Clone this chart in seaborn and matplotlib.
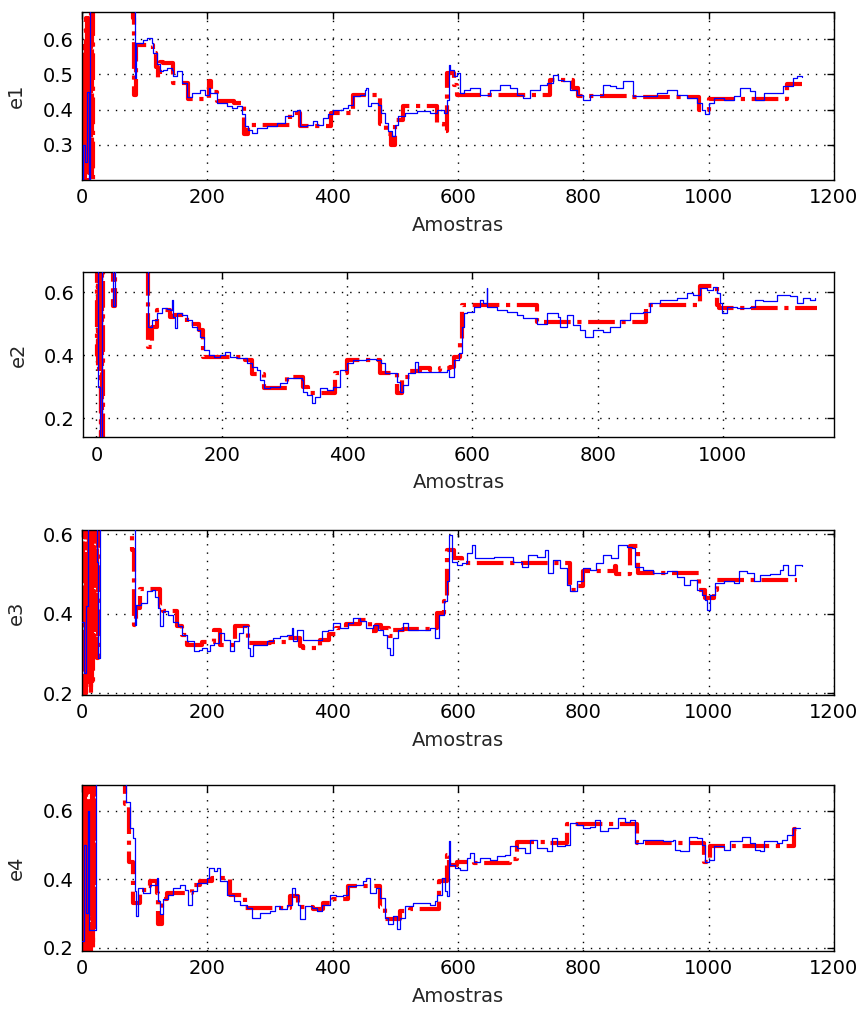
import numpy as np
import pandas as pd
import seaborn as sns
import matplotlib.pyplot as plt

# ---- e1 ----
e1_blue_x = [0, 2, 5, 8, 11, 13, 16, 40, 80, 83, 85, 87, 98, 103, 111, 114, 119, 124, 130, 135, 143, 146, 151,
             159, 167, 175, 188, 196, 202, 204, 215, 231, 239, 247, 255, 260, 265, 271, 279, 295, 311, 324, 337, 343,
             348, 359, 369, 375, 385, 393, 401, 417, 425, 433, 444, 452, 454, 457, 462, 473, 478, 484, 489, 494, 500,
             505, 516, 534, 555, 566, 577, 582, 585, 587, 593, 598, 603, 609, 619, 635, 651, 667, 683, 694, 704, 715,
             731, 742, 752, 760, 768, 779, 790, 800, 811, 827, 832, 843, 853, 864, 875, 880, 896, 917, 933, 949, 965,
             981, 989, 994, 1000, 1008, 1024, 1040, 1050, 1066, 1074, 1088, 1109, 1119, 1135, 1141, 1149]
e1_blue_y = [0.1, 0.3, 0.25, 0.45, 0.2, 0.9, 0.75, 0.8, 0.75, 0.68, 0.49, 0.59, 0.598, 0.603, 0.59, 0.56,
             0.53, 0.51, 0.512, 0.518, 0.512, 0.494, 0.51, 0.475, 0.437, 0.447, 0.455, 0.442, 0.461, 0.447, 0.419, 0.41,
             0.405, 0.41, 0.386, 0.353, 0.343, 0.334, 0.348, 0.353, 0.362, 0.381, 0.395, 0.40, 0.352, 0.357, 0.367,
             0.357, 0.376, 0.386, 0.40, 0.405, 0.414, 0.438, 0.442, 0.456, 0.461, 0.409, 0.419, 0.414, 0.39, 0.362,
             0.338, 0.324, 0.357, 0.381, 0.39, 0.395, 0.39, 0.40, 0.39, 0.428, 0.527, 0.513, 0.494, 0.504, 0.447,
             0.456, 0.461, 0.442, 0.456, 0.47, 0.461, 0.442, 0.433, 0.456, 0.47, 0.475, 0.499, 0.485, 0.48, 0.456,
             0.442, 0.428, 0.442, 0.442, 0.47, 0.466, 0.461, 0.48, 0.48, 0.438, 0.438, 0.447, 0.456, 0.442, 0.433,
             0.419, 0.40, 0.386, 0.419, 0.433, 0.428, 0.438, 0.461, 0.452, 0.428, 0.447, 0.447, 0.466, 0.489, 0.496,
             0.492]
e1_red_x = [0, 1, 2, 3, 4, 5, 6, 7, 8, 9, 10, 11, 12, 13, 14, 15, 16, 17, 82, 83, 87, 114, 118, 121, 124, 130, 146,
            170, 202, 206, 215, 242, 258, 265, 290, 332, 348, 398, 433, 476, 485, 493, 500, 513, 555, 566, 577, 582,
            593, 598, 747, 784, 792, 875, 984, 1000, 1125, 1149]
e1_red_y = [0.1, 0.58, 0.22, 0.5, 0.15, 0.45, 0.25, 0.66, 0.15, 0.4, 0.2, 0.6, 0.22, 0.68, 0.3, 0.62, 0.2, 0.9, 0.66,
            0.44, 0.584, 0.56, 0.52, 0.49, 0.535, 0.532, 0.475, 0.43, 0.48, 0.45, 0.423, 0.418, 0.33, 0.355, 0.357,
            0.39, 0.352, 0.39, 0.442, 0.36, 0.33, 0.30, 0.37, 0.41, 0.41, 0.36, 0.34, 0.504, 0.47, 0.442, 0.485, 0.46,
            0.438, 0.436, 0.40, 0.43, 0.472, 0.472]

# ---- e2 ----
e2_blue_x = [0, 3, 6, 9, 25, 27, 29, 60, 82, 83, 88, 96, 104, 112, 118, 120, 122, 125, 128, 136,
             144, 152, 160, 165, 171, 179, 187, 197, 205, 213, 224, 240, 248, 256, 261, 267, 277, 293, 304, 320, 328,
             330, 336, 344, 349, 357, 368, 378, 389, 400, 410, 431, 447, 455, 461, 471, 479, 485, 490, 498, 509, 514,
             533, 548, 559, 562, 570, 578, 583, 586, 592, 602, 612, 617, 623, 624, 639, 655, 671, 681, 697, 703, 719,
             737, 740, 751, 761, 772, 780, 793, 809, 820, 836, 852, 873, 884, 900, 926, 942, 953, 963, 974, 985, 990,
             995, 999, 1006, 1022, 1043, 1051, 1064, 1086, 1107, 1118, 1128, 1139, 1147]
e2_blue_y = [0.7, 0.3, 0.05, 0.9, 0.8, 0.555, 0.8, 0.85, 0.7, 0.49, 0.512, 0.533, 0.55,
             0.547, 0.544, 0.576, 0.52, 0.486, 0.533, 0.528, 0.512, 0.49, 0.48, 0.459, 0.417, 0.401, 0.396, 0.401,
             0.411, 0.396, 0.39, 0.375, 0.364, 0.353, 0.322, 0.295, 0.30, 0.311, 0.327, 0.327, 0.322, 0.285, 0.274,
             0.248, 0.269, 0.295, 0.29, 0.30, 0.353, 0.375, 0.385, 0.387, 0.385, 0.375, 0.343, 0.343, 0.316, 0.285,
             0.306, 0.343, 0.38, 0.348, 0.348, 0.348, 0.353, 0.332, 0.385, 0.406, 0.49, 0.533, 0.538, 0.554, 0.576,
             0.565, 0.613, 0.554, 0.544, 0.538, 0.528, 0.517, 0.517, 0.50, 0.533, 0.523, 0.49, 0.528, 0.496, 0.48,
             0.459, 0.48, 0.475, 0.49, 0.512, 0.533, 0.538, 0.565, 0.576, 0.581, 0.597, 0.592, 0.613, 0.608, 0.618,
             0.597, 0.565, 0.533, 0.554, 0.549, 0.554, 0.576, 0.571, 0.592, 0.587, 0.565, 0.581, 0.576, 0.581]
e2_red_x = [0, 1, 2, 3, 4, 5, 6, 7, 8, 9, 10, 11, 27, 29, 83, 88, 96, 118, 123, 144, 163, 170, 211, 237, 248, 267,
            304, 330, 338, 381, 400, 453, 479, 487, 500, 516, 532, 548, 564, 570, 580, 584, 703, 878, 963, 990, 994,
            1150]
e2_red_y = [0.85, 0.4, 0.9, 0.35, 0.8, 0.45, 0.9, 0.05, 0.7, 0.1, 0.6, 0.9, 0.555, 0.9, 0.427, 0.49, 0.544, 0.52,
            0.528, 0.50, 0.48, 0.396, 0.396, 0.385, 0.34, 0.295, 0.332, 0.30, 0.28, 0.343, 0.385, 0.343, 0.279,
            0.332, 0.35, 0.359, 0.353, 0.36, 0.364, 0.396, 0.45, 0.56, 0.507, 0.56, 0.62, 0.56, 0.549, 0.549]

# ---- e3 ----
e3_blue_x = [0, 3, 6, 10, 24, 26, 28, 60, 82, 85, 87, 95, 103, 111, 117, 122, 124, 130,
             138, 146, 154, 159, 167, 178, 186, 191, 199, 204, 210, 218, 226, 236, 242, 250, 257, 265, 268, 273, 284,
             295, 305, 316, 327, 335, 337, 343, 353, 369, 383, 393, 401, 412, 425, 433, 444, 454, 465, 473, 481, 486,
             492, 497, 505, 513, 521, 534, 555, 563, 569, 577, 582, 585, 590, 598, 606, 614, 622, 627, 641, 657, 672,
             688, 702, 712, 726, 739, 744, 752, 763, 774, 779, 790, 800, 811, 821, 832, 845, 856, 869, 877, 883, 896,
             912, 933, 949, 960, 970, 981, 989, 994, 997, 1002, 1010, 1024, 1040, 1048, 1061, 1072, 1082, 1098, 1114,
             1119, 1127, 1138, 1149]
e3_blue_y = [0.38, 0.25, 0.42, 0.9, 0.53, 0.289, 0.7, 0.8, 0.65, 0.372, 0.422,
             0.427, 0.456, 0.46, 0.443, 0.414, 0.368, 0.406, 0.397, 0.38, 0.368, 0.347, 0.331, 0.306, 0.31, 0.314,
             0.306, 0.322, 0.326, 0.352, 0.335, 0.306, 0.331, 0.352, 0.368, 0.314, 0.293, 0.322, 0.322, 0.331, 0.339,
             0.343, 0.347, 0.364, 0.331, 0.36, 0.335, 0.334, 0.356, 0.36, 0.377, 0.364, 0.377, 0.389, 0.381, 0.364,
             0.372, 0.36, 0.347, 0.314, 0.297, 0.339, 0.36, 0.377, 0.36, 0.36, 0.364, 0.339, 0.397, 0.431, 0.481,
             0.597, 0.531, 0.522, 0.527, 0.552, 0.572, 0.539, 0.539, 0.543, 0.543, 0.531, 0.518, 0.547, 0.543, 0.56,
             0.502, 0.535, 0.514, 0.472, 0.456, 0.481, 0.514, 0.51, 0.527, 0.547, 0.539, 0.572, 0.568, 0.564, 0.518,
             0.51, 0.502, 0.506, 0.493, 0.472, 0.485, 0.46, 0.447, 0.435, 0.41, 0.447, 0.477, 0.481, 0.477, 0.506,
             0.502, 0.481, 0.497, 0.50, 0.51, 0.522, 0.497, 0.522, 0.52]
e3_red_x = [0, 2, 3, 4, 5, 6, 7, 8, 9, 10, 11, 12, 13, 14, 15, 16, 18, 20, 22, 24, 26, 80, 83, 87, 93, 124, 130,
            151, 159, 167, 191, 210, 220, 245, 265, 300, 329, 348, 353, 380, 395, 406, 422, 444, 460, 470, 478, 490,
            497, 513, 555, 566, 578, 582, 593, 606, 779, 790, 800, 850, 853, 875, 888, 984, 994, 1008, 1013, 1141]
e3_red_y = [0.8, 0.2, 0.9, 0.25, 0.55, 0.2, 0.9, 0.3, 0.85, 0.22, 0.7, 0.25, 0.9, 0.2, 0.6, 0.22, 0.8, 0.3, 0.9,
            0.29, 0.8, 0.56, 0.372, 0.414, 0.462, 0.42, 0.406, 0.37, 0.347, 0.322, 0.33, 0.36, 0.322, 0.368, 0.327,
            0.33, 0.339, 0.32, 0.314, 0.335, 0.35, 0.364, 0.375, 0.385, 0.356, 0.372, 0.364, 0.345, 0.36, 0.362,
            0.364, 0.401, 0.431, 0.56, 0.54, 0.528, 0.46, 0.47, 0.506, 0.52, 0.50, 0.57, 0.502, 0.46, 0.44, 0.46,
            0.485, 0.485]

# ---- e4 ----
e4_blue_x = [0, 3, 6, 9, 12, 22, 50, 69, 71, 77, 82, 85, 87, 90, 98, 109, 119, 122,
             124, 130, 138, 146, 156, 164, 170, 175, 183, 194, 199, 202, 210, 215, 220, 231, 242, 252, 263, 271, 284,
             300, 308, 316, 327, 335, 340, 345, 348, 356, 367, 375, 383, 396, 406, 417, 425, 438, 449, 454, 460, 470,
             476, 483, 489, 497, 502, 508, 516, 529, 555, 563, 566, 574, 579, 582, 585, 587, 595, 603, 614, 619, 625,
             635, 651, 662, 675, 683, 694, 707, 715, 726, 742, 750, 758, 771, 779, 790, 800, 811, 819, 827, 840, 851,
             856, 867, 875, 883, 896, 928, 943, 946, 954, 968, 981, 989, 994, 1000, 1008, 1024, 1034, 1053, 1066,
             1074, 1082, 1088, 1109, 1117, 1125, 1135, 1146]
e4_blue_y = [0.22, 0.5, 0.3, 0.6, 0.25, 0.9, 0.85, 0.68, 0.627, 0.55,
             0.52, 0.365, 0.292, 0.375, 0.36, 0.384, 0.404, 0.336, 0.297, 0.341, 0.355, 0.375, 0.384, 0.37, 0.326,
             0.365, 0.389, 0.389, 0.404, 0.433, 0.423, 0.433, 0.394, 0.355, 0.336, 0.326, 0.317, 0.287, 0.302, 0.307,
             0.321, 0.312, 0.326, 0.375, 0.355, 0.326, 0.283, 0.321, 0.317, 0.307, 0.326, 0.355, 0.35, 0.355, 0.38,
             0.384, 0.394, 0.404, 0.36, 0.375, 0.346, 0.287, 0.268, 0.292, 0.253, 0.287, 0.321, 0.331, 0.326, 0.336,
             0.355, 0.404, 0.365, 0.35, 0.511, 0.443, 0.433, 0.428, 0.462, 0.477, 0.452, 0.462, 0.457, 0.467, 0.472,
             0.496, 0.491, 0.477, 0.516, 0.491, 0.482, 0.52, 0.496, 0.501, 0.564, 0.559, 0.55, 0.554, 0.574, 0.54,
             0.55, 0.55, 0.579, 0.569, 0.574, 0.506, 0.516, 0.513, 0.516, 0.486, 0.482, 0.525, 0.52, 0.501, 0.452,
             0.457, 0.496, 0.486, 0.511, 0.525, 0.506, 0.486, 0.482, 0.511, 0.506, 0.516, 0.53, 0.55, 0.55]
e4_red_x = [0, 1, 2, 3, 4, 5, 6, 7, 8, 9, 10, 11, 12, 13, 14, 15, 16, 17, 18, 19, 20, 21, 69, 75, 82, 93, 103, 109,
            119, 122, 127, 135, 175, 188, 207, 236, 260, 316, 332, 345, 369, 385, 401, 425, 476, 484, 508, 524, 566,
            569, 582, 585, 598, 625, 683, 694, 747, 774, 885, 992, 1002, 1137, 1149]
e4_red_y = [0.85, 0.2, 0.6, 0.3, 0.9, 0.15, 0.7, 0.25, 0.9, 0.2, 0.55, 0.22, 0.85, 0.15, 0.6, 0.3, 0.9, 0.2, 0.7,
            0.25, 0.8, 0.9, 0.62, 0.45, 0.33, 0.37, 0.38, 0.394, 0.36, 0.27, 0.341, 0.36, 0.384, 0.394, 0.404, 0.355,
            0.317, 0.317, 0.351, 0.32, 0.312, 0.33, 0.341, 0.38, 0.32, 0.283, 0.307, 0.312, 0.312, 0.394, 0.47, 0.443,
            0.45, 0.447, 0.46, 0.509, 0.506, 0.561, 0.506, 0.45, 0.496, 0.548, 0.548]

panels = [
    ('e1', e1_blue_x, e1_blue_y, e1_red_x, e1_red_y, (0, 1200), (0.2, 0.677), [0.3, 0.4, 0.5, 0.6],
     [0.0953, 0.8216, 0.8744, 0.1665]),
    ('e2', e2_blue_x, e2_blue_y, e2_red_x, e2_red_y, (-21, 1178), (0.14, 0.665), [0.2, 0.4, 0.6],
     [0.0969, 0.5666, 0.8733, 0.1641]),
    ('e3', e3_blue_x, e3_blue_y, e3_red_x, e3_red_y, (0, 1200), (0.196, 0.61), [0.2, 0.4, 0.6],
     [0.0953, 0.3112, 0.8744, 0.1635]),
    ('e4', e4_blue_x, e4_blue_y, e4_red_x, e4_red_y, (0, 1200), (0.19, 0.676), [0.2, 0.4, 0.6],
     [0.0953, 0.0575, 0.8744, 0.1645]),
]

sns.set_style('white')
plt.rcParams['font.family'] = ['DejaVu Sans']
plt.rcParams['font.size'] = 14

fig = plt.figure(figsize=(8.6, 10.09), dpi=100)

for name, bx, by, rx, ry, xl, yl, yt, pos in panels:
    ax = fig.add_axes(pos)
    blue = pd.DataFrame({'x': bx, 'y': by})
    red = pd.DataFrame({'x': rx, 'y': ry})
    sns.lineplot(data=red, x='x', y='y', ax=ax, color='red', lw=3.0, linestyle='-.', estimator=None, sort=False,
                 drawstyle='steps-post', zorder=2)
    sns.lineplot(data=blue, x='x', y='y', ax=ax, color='blue', lw=0.9, estimator=None, sort=False,
                 drawstyle='steps-post', zorder=3)
    ax.set_xlim(*xl)
    ax.set_ylim(*yl)
    if xl[0] < 0:
        ax.set_xticks([0, 200, 400, 600, 800, 1000])
    else:
        ax.set_xticks([0, 200, 400, 600, 800, 1000, 1200])
    ax.set_yticks(yt)
    ax.set_yticklabels([f'{v:.1f}' for v in yt])
    ax.grid(True, color='black', linestyle=(0, (1, 5)), linewidth=1.0)
    ax.tick_params(direction='in', top=True, right=True, length=5, width=1, colors='black', labelsize=14, pad=6)
    for s in ax.spines.values():
        s.set_color('black')
        s.set_linewidth(1.0)
    ax.set_xlabel('Amostras', fontsize=14, labelpad=6)
    ax.set_ylabel(name, fontsize=14, labelpad=12)

fig.savefig('out.png', dpi=100)
